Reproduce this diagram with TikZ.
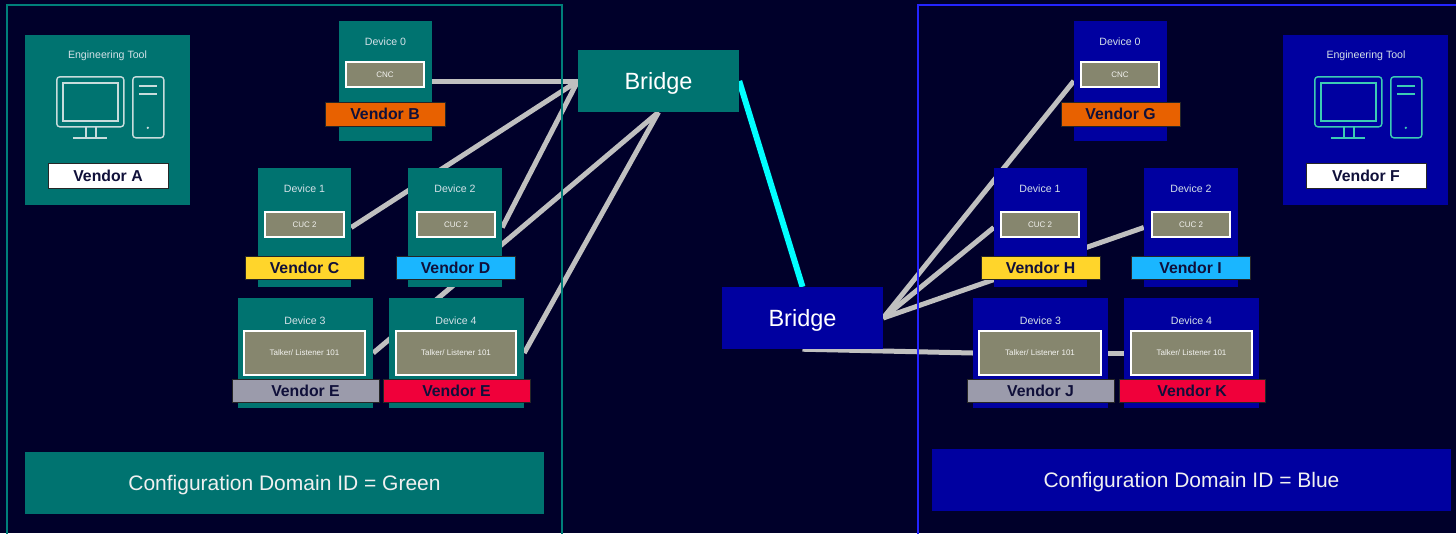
\documentclass[tikz,border=0pt]{standalone}
\usepackage{fontspec}
\setmainfont{Liberation Sans}
\usetikzlibrary{positioning, calc}
\pgfdeclarelayer{back}
\pgfdeclarelayer{links}
\pgfsetlayers{back,links,main}

\definecolor{night}{HTML}{00002A}
\definecolor{tealbox}{HTML}{007370}
\definecolor{bluebox}{HTML}{0000A0}
\definecolor{tealframe}{HTML}{007F7A}
\definecolor{blueframe}{HTML}{2424FF}
\definecolor{funcgray}{HTML}{86866E}
\definecolor{linkgray}{HTML}{C0C0C0}
\definecolor{trunkcyan}{HTML}{00FFFF}
\definecolor{vendortext}{HTML}{10103A}
\definecolor{vorange}{HTML}{E86100}
\definecolor{vyellow}{HTML}{FFD52B}
\definecolor{vsky}{HTML}{1AB6FF}
\definecolor{vgray}{HTML}{9B9BAB}
\definecolor{vred}{HTML}{F0003A}
\definecolor{titlegray}{HTML}{D5E2E8}
\definecolor{icongray}{HTML}{C8DCDC}
\definecolor{iconteal}{HTML}{3CCBB4}

\tikzstyle{Teal} = [fill=tealbox, inner sep=0pt]
\tikzstyle{Blue} = [fill=bluebox, inner sep=0pt]
\tikzstyle{Title} = [text=titlegray, font=\fontsize{10.6}{12}\selectfont]
\tikzstyle{Func} = [fill=funcgray, draw=white, line width=1.4pt,
text=white!90!funcgray, font=\fontsize{8}{9}\selectfont]
\tikzstyle{Vendor} = [draw=black!85, line width=0.8pt, text=vendortext,
font=\bfseries\fontsize{15.8}{18}\selectfont]
\tikzstyle{Bridge} = [text=white, text depth=0pt, font=\fontsize{23.5}{28}\selectfont]
\tikzstyle{Domain} = [text=white!94!black, text depth=0pt, font=\fontsize{21}{25}\selectfont]
\tikzstyle{Link} = [draw=linkgray, line width=5pt]
\tikzstyle{Trunk} = [draw=trunkcyan, line width=6pt]

\newcommand{\toolicon}[2]{%
  \begin{scope}[shift={(#1)}, draw=#2, line width=1.4pt]
    \draw[rounded corners=3pt] (32,42) rectangle (99,92);
    \draw (38,48) rectangle (93,86);
    \draw (61,92) -- (61,103) (71,92) -- (71,103) (48,103) -- (82,103);
    \draw[rounded corners=3pt] (108,42) rectangle (139,103);
    \draw (114,51) -- (132,51) (114,59) -- (132,59);
    \fill[#2] (123,93) circle (1.3pt);
  \end{scope}}

\begin{document}
\begin{tikzpicture}[x=1pt, y=-1pt]
    \useasboundingbox (0,0) rectangle (1456,533);
    \begin{pgfonlayer}{back}
        \fill[night] (0,0) rectangle (1456,533);
    \end{pgfonlayer}
    \draw[tealframe, line width=2pt] (7,5) rectangle (562,545);
    \draw[blueframe, line width=2pt] (918,5) rectangle (1470,545);

    % green domain
    \node[Teal, minimum width=165pt, minimum height=170pt] (tA) at (107.5,120) {};
    \node[Title] (tAt) at (107.5,56) {Engineering Tool};
    \node[Vendor, fill=white, minimum width=120pt, minimum height=25pt] (vA) at (108,175.5) {Vendor A};
    \toolicon{tA.north west}{icongray}

    \node[Teal, minimum width=93pt, minimum height=120pt] (d0) at (385.5,81) {};
    \node[Title] (d0t) at (385.5,42) {Device 0};
    \node[Func, minimum width=78pt, minimum height=25pt] (d0f) at (385,74.5) {CNC};
    \node[Vendor, fill=vorange, minimum width=120pt, minimum height=24pt] (vB) at (385,114) {Vendor B};

    \node[Teal, minimum width=93pt, minimum height=119pt] (d1) at (304.5,227.5) {};
    \node[Title] (d1t) at (304.5,189) {Device 1};
    \node[Func, minimum width=79pt, minimum height=25pt] (d1f) at (304.5,224.5) {CUC 2};
    \node[Vendor, fill=vyellow, minimum width=119pt, minimum height=23pt] (vC) at (304.5,267.5) {Vendor C};

    \node[Teal, minimum width=94pt, minimum height=119pt] (d2) at (455,227.5) {};
    \node[Title] (d2t) at (455,189) {Device 2};
    \node[Func, minimum width=78pt, minimum height=25pt] (d2f) at (456,224.5) {CUC 2};
    \node[Vendor, fill=vsky, minimum width=119pt, minimum height=23pt] (vD) at (455.5,267.5) {Vendor D};

    \node[Teal, minimum width=135pt, minimum height=110pt] (d3) at (305.5,353) {};
    \node[Title] (d3t) at (305,321) {Device 3};
    \node[Func, minimum width=121pt, minimum height=44pt] (d3f) at (304.5,353) {Talker/ Listener 101};
    \node[Vendor, fill=vgray, minimum width=147pt, minimum height=23pt] (vE) at (305.5,390.5) {Vendor E};

    \node[Teal, minimum width=135pt, minimum height=110pt] (d4) at (456.5,353) {};
    \node[Title] (d4t) at (456,321) {Device 4};
    \node[Func, minimum width=120pt, minimum height=44pt] (d4f) at (456,353) {Talker/ Listener 101};
    \node[Vendor, fill=vred, minimum width=147pt, minimum height=23pt] (vE2) at (456.5,390.5) {Vendor E};

    \node[Teal, Bridge, minimum width=161pt, minimum height=62pt] (bL) at (658.5,81) {Bridge};
    \node[Teal, Domain, minimum width=519pt, minimum height=62pt] (domL) at (284.5,483) {Configuration Domain ID = Green};

    % blue domain
    \node[Blue, Bridge, minimum width=161pt, minimum height=62pt] (bR) at (802.5,318) {Bridge};

    \node[Blue, minimum width=165pt, minimum height=170pt] (tF) at (1365.5,120) {};
    \node[Title] (tFt) at (1366,56) {Engineering Tool};
    \node[Vendor, fill=white, minimum width=120pt, minimum height=25pt] (vF) at (1366,175.5) {Vendor F};
    \toolicon{tF.north west}{iconteal}

    \node[Blue, minimum width=93pt, minimum height=120pt] (g0) at (1120.5,81) {};
    \node[Title] (g0t) at (1120,42) {Device 0};
    \node[Func, minimum width=78pt, minimum height=25pt] (g0f) at (1120,74.5) {CNC};
    \node[Vendor, fill=vorange, minimum width=119pt, minimum height=24pt] (vG) at (1120.5,114) {Vendor G};

    \node[Blue, minimum width=93pt, minimum height=119pt] (h1) at (1040.5,227.5) {};
    \node[Title] (h1t) at (1040,189) {Device 1};
    \node[Func, minimum width=78pt, minimum height=25pt] (h1f) at (1040,224.5) {CUC 2};
    \node[Vendor, fill=vyellow, minimum width=119pt, minimum height=23pt] (vH) at (1040.5,267.5) {Vendor H};

    \node[Blue, minimum width=94pt, minimum height=119pt] (i2) at (1191,227.5) {};
    \node[Title] (i2t) at (1191,189) {Device 2};
    \node[Func, minimum width=78pt, minimum height=25pt] (i2f) at (1191,224.5) {CUC 2};
    \node[Vendor, fill=vsky, minimum width=119pt, minimum height=23pt] (vI) at (1190.5,267.5) {Vendor I};

    \node[Blue, minimum width=135pt, minimum height=110pt] (j3) at (1040.5,353) {};
    \node[Title] (j3t) at (1040.5,321) {Device 3};
    \node[Func, minimum width=122pt, minimum height=44pt] (j3f) at (1040,353) {Talker/ Listener 101};
    \node[Vendor, fill=vgray, minimum width=147pt, minimum height=23pt] (vJ) at (1040.5,390.5) {Vendor J};

    \node[Blue, minimum width=135pt, minimum height=110pt] (k4) at (1191.5,353) {};
    \node[Title] (k4t) at (1191.5,321) {Device 4};
    \node[Func, minimum width=121pt, minimum height=44pt] (k4f) at (1191.5,353) {Talker/ Listener 101};
    \node[Vendor, fill=vred, minimum width=146pt, minimum height=23pt] (vK) at (1192,390.5) {Vendor K};

    \node[Blue, Domain, minimum width=519pt, minimum height=62pt] (domR) at (1191.5,480) {Configuration Domain ID = Blue};

    \begin{pgfonlayer}{links}
        \draw[Link] (d0.east) -- (bL.west);
        \draw[Link] (d1.east) -- (bL.west);
        \draw[Link] (d2.east) -- (bL.west);
        \draw[Link] (d3.east) -- (bL.south);
        \draw[Link] (d4.east) -- (bL.south);
        \draw[Trunk] (bL.east) -- (bR.north);
        \draw[Link] (bR.east) -- (g0.west);
        \draw[Link] (bR.east) -- (h1.west);
        \draw[Link] (bR.east) -- (i2.west);
        \draw[Link] (bR.south) -- (j3.west);
        \draw[Link] (j3.east) -- (k4.west);
    \end{pgfonlayer}
\end{tikzpicture}
\end{document}
